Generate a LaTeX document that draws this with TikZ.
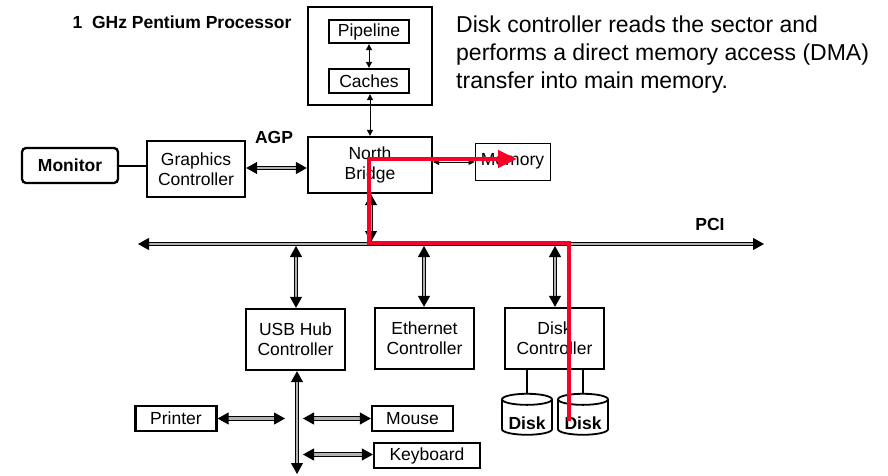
\documentclass[tikz,border=0pt]{standalone}
\usepackage{fontspec}
\setmainfont{Liberation Sans}
\usetikzlibrary{arrows.meta,shapes.geometric}
\definecolor{dmared}{RGB}{250,0,40}
\begin{document}
\begin{tikzpicture}[x=1pt,y=-1pt,
  every node/.style={font=\fontsize{17.5}{20}\selectfont},
  box/.style={draw, line width=2.3pt, align=center, inner sep=0pt},
  thinbox/.style={draw, line width=1pt, align=center, inner sep=0pt},
  lbl/.style={font=\fontsize{17.5}{20}\selectfont\bfseries, inner sep=0pt},
  dbl/.style={line width=1pt, double=gray!60, double distance=2.3pt,
    {Triangle[length=11pt,width=12pt]}-{Triangle[length=11pt,width=12pt]}},
  thinarr/.style={line width=0.9pt,
    {Triangle[length=6pt,width=6pt]}-{Triangle[length=6pt,width=6pt]}},
  cyl/.style={cylinder, shape border rotate=90, draw, line width=1.8pt,
    minimum width=50pt, minimum height=41pt, aspect=0.3, inner sep=0pt,
    font=\fontsize{17.5}{20}\selectfont\bfseries},
  dma/.style={draw=dmared, line width=4pt, line join=miter,
    -{Triangle[length=19pt,width=17pt]}}]
\useasboundingbox (0,0) rectangle (888,476);
% processor
\node[lbl] (title) at (182,22) {1\ \ GHz Pentium Processor};
\node[box, minimum width=124pt, minimum height=98pt] (proc) at (370,56) {};
\node[box, minimum width=80pt, minimum height=23pt] (pipe) at (369,31.5) {Pipeline};
\node[box, minimum width=80pt, minimum height=24pt] (cache) at (369,81) {Caches};
\draw[thinarr] (pipe) -- (cache);
% north bridge, memory
\node[box, minimum width=124pt, minimum height=56pt] (nb) at (370,165) {North\\Bridge};
\node[thinbox, minimum width=75pt, minimum height=37pt] (mem) at (512.5,161.5) {Memory};
\draw[thinarr] (cache.south -| nb.north) -- (nb.north);
\draw[thinarr] (nb.east |- 0,162) -- (mem.west |- 0,162);
% graphics
\node[box, minimum width=98pt, minimum height=56pt] (gc) at (196,169) {Graphics\\Controller};
\node[box, rounded corners=4pt, minimum width=96pt, minimum height=35pt, font=\fontsize{17.5}{20}\selectfont\bfseries] (mon) at (70,165.5) {Monitor};
\draw[line width=2pt] (mon.east) -- (mon.east -| gc.west);
\node[lbl] (agp) at (274,137) {AGP};
\draw[dbl] (gc.east |- 0,168) -- (nb.west |- 0,168);
% PCI bus
\coordinate (busL) at (138,244);
\coordinate (busR) at (764,244);
\draw[dbl] (busL) -- (busR);
\node[lbl] (pci) at (710,224) {PCI};
% controllers
\node[box, minimum width=99pt, minimum height=61pt] (usb) at (295.5,339.5) {USB Hub\\Controller};
\node[box, minimum width=99pt, minimum height=61pt] (eth) at (424.5,338.5) {Ethernet\\Controller};
\node[box, minimum width=99pt, minimum height=61pt] (dc) at (554.5,338.5) {Disk\\Controller};
\draw[dbl] (nb.south -| 371,0) -- (371,242);
\draw[dbl] (296,246) -- (usb.north -| 296,0);
\draw[dbl] (424,246) -- (eth.north -| 424,0);
\draw[dbl] (555,246) -- (dc.north -| 555,0);
% disks
\node[cyl] (d1) at (527,417.5) {\raisebox{-6pt}[12pt][0pt]{Disk}};
\node[cyl] (d2) at (583,417.5) {\raisebox{-6pt}[12pt][0pt]{Disk}};
\draw[line width=1.8pt] (d1.north |- dc.south) -- (d1.north);
\draw[line width=1.8pt] (d2.north |- dc.south) -- (d2.north);
% USB devices
\coordinate (usbEnd) at (297,474);
\draw[dbl] (usb.south -| 297,0) -- (usbEnd);
\node[box, minimum width=81pt, minimum height=25pt] (prn) at (176,418.5) {Printer};
\node[box, minimum width=81pt, minimum height=25pt] (mouse) at (412.5,418.5) {Mouse};
\node[box, minimum width=106pt, minimum height=25pt] (kbd) at (427,455.5) {Keyboard};
\coordinate (pE) at (285,418.5);
\coordinate (mW) at (303,418.5);
\coordinate (kW) at (303,454.5);
\draw[dbl] (prn.east) -- (pE);
\draw[dbl] (mW) -- (mouse.west);
\draw[dbl] (kW) -- (kbd.west |- kW);
% text
\node[anchor=north west, align=left, inner sep=0pt,
  font=\fontsize{23}{28}\selectfont] (txt) at (456,16)
  {Disk controller reads the sector and\\performs a direct memory access (DMA)\\transfer into main memory.};
% DMA path
\coordinate (r0) at (569,421);
\coordinate (r1) at (569,243);
\coordinate (r2) at (369,243);
\coordinate (r3) at (369,159);
\coordinate (r4) at (517,159);
\draw[dma] (r0) -- (r1) -- (r2) -- (r3) -- (r4);
\end{tikzpicture}
\end{document}
